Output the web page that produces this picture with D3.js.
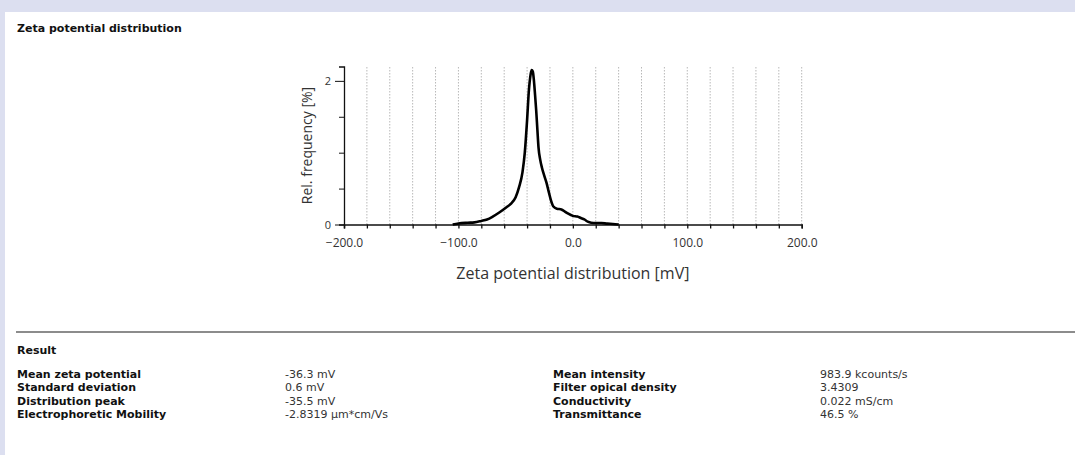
<!DOCTYPE html>
<html>
<head>
<meta charset="utf-8">
<script src="https://cdn.jsdelivr.net/npm/d3@7"></script>
<style>
  body { margin: 0; background: #dcdff0; }
  svg { display: block; font-family: "Open Sans", sans-serif; }
  .rep { font-family: "DejaVu Sans", sans-serif; }
</style>
</head>
<body>
<svg id="report" width="1075" height="455"></svg>
<script>
// distribution curve
var zetaMv = [-105, -100, -92, -86, -80, -75, -70, -64, -58, -54, -50, -47, -44, -42, -40,
  -38.5, -37, -36, -35, -34, -33, -32, -31, -30, -28.5, -27, -25, -23, -21, -19, -17,
  -14, -10, -7, -4, 0, 4, 7, 10, 13, 16, 20, 25, 30, 35, 40];
var relFreq = [0, 0.015, 0.025, 0.03, 0.05, 0.07, 0.11, 0.17, 0.24, 0.29, 0.38, 0.52, 0.73, 1.0, 1.45,
  1.85, 2.08, 2.15, 2.13, 2.0, 1.8, 1.58, 1.32, 1.07, 0.9, 0.79, 0.68, 0.58, 0.45, 0.33, 0.25,
  0.22, 0.21, 0.18, 0.15, 0.12, 0.11, 0.09, 0.07, 0.04, 0.025, 0.02, 0.02, 0.012, 0.008, 0];

var xTickLabels = [-200, -100, 0, 100, 200];
var yTickLabels = [0, 2];

var leftNames = ["Mean zeta potential", "Standard deviation", "Distribution peak", "Electrophoretic Mobility"];
var leftValues = ["-36.3 mV", "0.6 mV", "-35.5 mV", "-2.8319 \u00b5m*cm/Vs"];
var rightNames = ["Mean intensity", "Filter opical density", "Conductivity", "Transmittance"];
var rightValues = ["983.9 kcounts/s", "3.4309", "0.022 mS/cm", "46.5 %"];

var svg = d3.select("#report");

// white page
svg.append("rect")
    .attr("x", 5).attr("y", 12)
    .attr("width", 1070).attr("height", 443)
    .attr("fill", "#fff");

svg.append("text")
    .classed("rep", true)
    .attr("x", 17).attr("y", 32)
    .attr("font-size", "11px")
    .attr("font-weight", "bold")
    .attr("fill", "#111")
    .text("Zeta potential distribution");

var x = d3.scaleLinear().domain([-200, 200]).range([344, 801.7]);
var y = d3.scaleLinear().domain([0, 2.2]).range([224.5, 66.5]);

var chart = svg.append("g");

// dotted gridlines every 20 mV
chart.selectAll(".grid")
    .data(d3.range(-180, 201, 20))
  .enter().append("line")
    .classed("grid", true)
    .attr("x1", d => x(d)).attr("x2", d => x(d))
    .attr("y1", y(0)).attr("y2", y(2.2))
    .attr("stroke", "#b8b8b8")
    .attr("stroke-width", 1)
    .attr("stroke-dasharray", "1.5,1.5");

// x axis
var xAxis = d3.axisBottom(x)
    .tickValues(d3.range(-200, 201, 20))
    .tickSize(4)
    .tickFormat(d => xTickLabels.includes(d) ? d3.format(".1f")(d) : "");

var gx = chart.append("g")
    .attr("transform", "translate(0," + y(0) + ")")
    .call(xAxis);
gx.select(".domain").attr("stroke", "#111").attr("stroke-width", 1.5);
gx.selectAll(".tick line").attr("stroke", "#111").attr("stroke-width", 1.3);
gx.selectAll(".tick text")
    .attr("font-family", "Open Sans, sans-serif")
    .attr("font-size", "12px")
    .attr("fill", "#333")
    .attr("y", 22.5)
    .attr("dy", null);

// y axis
var yAxis = d3.axisLeft(y)
    .tickValues([0, 0.5, 1, 1.5, 2])
    .tickSize(5)
    .tickFormat(d => yTickLabels.includes(d) ? d : "");

var gy = chart.append("g")
    .attr("transform", "translate(" + x(-200) + ",0)")
    .call(yAxis);
gy.select(".domain").attr("stroke", "#111").attr("stroke-width", 1.3);
gy.selectAll(".tick line")
    .attr("stroke", "#111")
    .attr("x2", d => yTickLabels.includes(d) ? -9 : -5);
gy.selectAll(".tick text")
    .attr("font-family", "Open Sans, sans-serif")
    .attr("font-size", "11px")
    .attr("fill", "#333")
    .attr("x", -13);

chart.append("text")
    .attr("transform", "translate(312," + y(1.1) + ") rotate(-90)")
    .attr("text-anchor", "middle")
    .attr("font-size", "14px")
    .attr("fill", "#333")
    .text("Rel. frequency [%]");

chart.append("text")
    .attr("x", x(0)).attr("y", 279)
    .attr("text-anchor", "middle")
    .attr("font-size", "16px")
    .attr("fill", "#333")
    .text("Zeta potential distribution [mV]");

var points = zetaMv.map((d, i) => [d, relFreq[i]]);
var line = d3.line()
    .x(d => x(d[0]))
    .y(d => y(d[1]))
    .curve(d3.curveMonotoneX);

chart.append("path")
    .datum(points)
    .attr("d", line)
    .attr("fill", "none")
    .attr("stroke", "#000")
    .attr("stroke-width", 2.6)
    .attr("stroke-linejoin", "round");

// separator
svg.append("line")
    .attr("x1", 16).attr("x2", 1075)
    .attr("y1", 332).attr("y2", 332)
    .attr("stroke", "#8c8c8c")
    .attr("stroke-width", 2);

svg.append("text")
    .classed("rep", true)
    .attr("x", 17).attr("y", 354)
    .attr("font-size", "11px")
    .attr("font-weight", "bold")
    .attr("fill", "#111")
    .text("Result");

function drawColumn(items, xPos, bold) {
  svg.append("g").selectAll("text")
      .data(items)
    .enter().append("text")
      .classed("rep", true)
      .attr("x", xPos)
      .attr("y", (d, i) => 378 + i * 13.4)
      .attr("font-size", "11px")
      .attr("font-weight", bold ? "bold" : "normal")
      .attr("fill", bold ? "#111" : "#333")
      .text(d => d);
}

drawColumn(leftNames, 17, true);
drawColumn(leftValues, 285, false);
drawColumn(rightNames, 553, true);
drawColumn(rightValues, 820, false);
</script>
</body>
</html>
